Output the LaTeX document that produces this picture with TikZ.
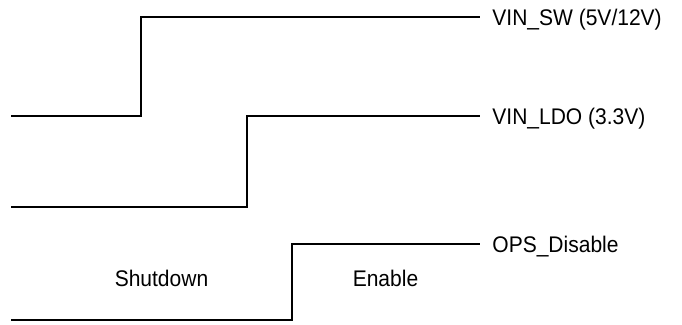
\documentclass[tikz,border=0pt]{standalone}
\usepackage{fontspec}
\setmainfont{Liberation Sans}
\newfontfamily\lblfont[FakeStretch=0.93]{Liberation Sans}
\usepackage{tikz}
\usetikzlibrary{positioning}

\begin{document}
\begin{tikzpicture}[
		x=0.5pt, y=-0.5pt,
		wave/.style={line width=0.85pt, black, line join=miter},
		lbl/.style={font=\lblfont\fontsize{11.3}{13}\selectfont, inner sep=0pt, text height=8.1pt, text depth=0pt}
	]
		\useasboundingbox (0,0) rectangle (682,325);

		% ===== VIN_SW =====
		\coordinate (swEnd) at (480,17);
		\draw[wave] (11,116) -- (141,116) -- (141,17) -- (swEnd);
		\node[lbl, right=6pt of swEnd] (swLbl) {VIN\_SW (5V/12V)};

		% ===== VIN_LDO =====
		\coordinate (ldoEnd) at (480,116);
		\draw[wave] (11,207) -- (247,207) -- (247,116) -- (ldoEnd);
		\node[lbl, right=6pt of ldoEnd] (ldoLbl) {VIN\_LDO (3.3V)};

		% ===== OPS_Disable =====
		\coordinate (opsEnd) at (480,244);
		\draw[wave] (11,320) -- (292,320) -- (292,244) -- (opsEnd);
		\node[lbl, right=6pt of opsEnd] (opsLbl) {OPS\_Disable};

		% States
		\node[lbl] (shut) at (161.5,278.5) {Shutdown};
		\node[lbl] (enab) at (385.5,278.5) {Enable};
	\end{tikzpicture}
\end{document}
